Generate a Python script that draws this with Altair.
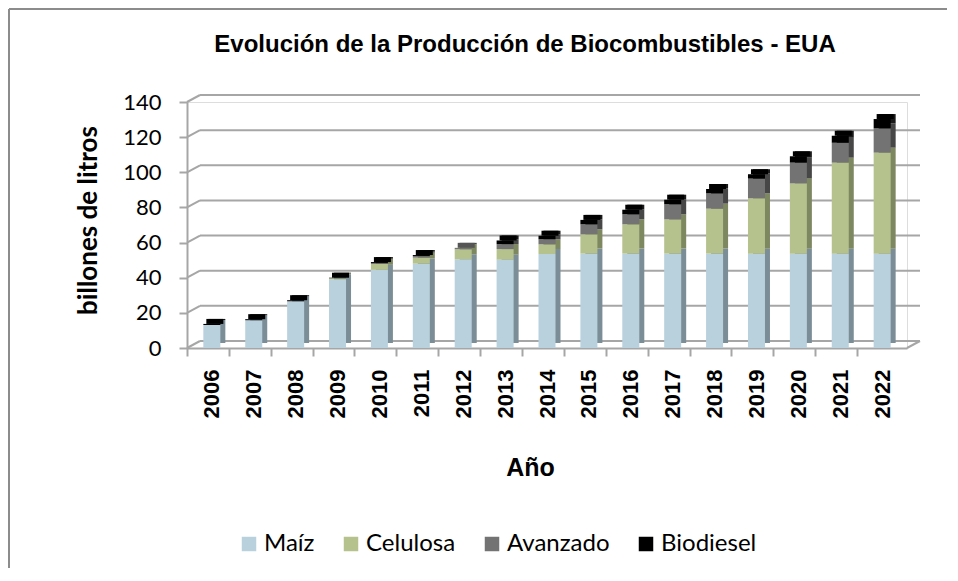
import altair as alt
import pandas as pd

# ---- data (billones de litros) ----
years = [str(y) for y in range(2006, 2023)]
maiz      = [13.1, 15.8, 26.6, 39.1, 44.5, 48.0, 50.5, 50.3, 53.5, 53.7, 53.7, 53.7, 53.7, 53.7, 53.7, 53.7, 53.7]
celulosa  = [0.0, 0.0, 0.0, 0.6, 3.3, 3.4, 5.7, 6.0, 5.5, 11.0, 16.7, 19.5, 25.6, 31.5, 40.0, 51.8, 57.5]
avanzado  = [0.0, 0.0, 0.0, 0.0, 0.5, 0.9, 0.8, 2.8, 2.9, 5.7, 5.7, 8.6, 8.7, 11.2, 11.8, 11.3, 13.8]
biodiesel = [0.6, 0.6, 0.6, 0.3, 0.6, 0.6, 0.0, 2.1, 2.0, 2.5, 2.6, 2.6, 2.5, 2.5, 3.6, 4.0, 5.3]

series = ["Maíz", "Celulosa", "Avanzado", "Biodiesel"]
front_colors = ["#B9D1DC", "#B5C28E", "#737373", "#000000"]
side_colors = ["#7B8E97", "#7D8760", "#474747", "#1A1A1A"]
top_colors = ["#9FB6C1", "#8E9A66", "#555555", "#000000"]
grid_vals = [0, 20, 40, 60, 80, 100, 120, 140]
title_text = "Evolución de la Producción  de Biocombustibles - EUA"

all_vals = [maiz, celulosa, avanzado, biodiesel]
rows = []
for i, (s, vals) in enumerate(zip(series, all_vals)):
    for y, v in zip(years, vals):
        rows.append(dict(anio=y, serie=s, valor=v, orden=i, lado=side_colors[i]))
df = pd.DataFrame(rows)

top_rows = []
for j, y in enumerate(years):
    vals = [a[j] for a in all_vals]
    last = max(i for i, v in enumerate(vals) if v > 0)
    top_rows.append(dict(anio=y, total=sum(vals), tapa=top_colors[last]))
top_df = pd.DataFrame(top_rows)

grid_df = pd.DataFrame({"v": grid_vals})
one_df = pd.DataFrame({"v": [0], "t": [title_text]})

W, H = 720, 246
xscale = alt.Scale(domain=years, paddingInner=0.594, paddingOuter=0.39)
yscale = alt.Scale(domain=[0, 140], nice=False, zero=True)
GRID = "#A6A6A6"

x_axis = alt.Axis(
    title="Año", titleFont="Liberation Sans", titleFontSize=25, titleFontWeight="bold",
    titleColor="#000", titleX=343, titleY=119, titleBaseline="middle",
    labelAngle=-90, labelFont="Liberation Sans", labelFontSize=22, labelFontWeight="bold",
    labelColor="#000", labelPadding=13, tickOffset=-25, labelOffset=25,
    domainColor=GRID, domainWidth=2, tickColor=GRID, tickWidth=2, tickSize=8, grid=False,
)
y_axis = alt.Axis(
    values=grid_vals, title="billones de litros", titleFont="Lato", titleFontSize=26,
    titleFontWeight="bold", titleColor="#000", titleX=-99, titleY=118, titleBaseline="middle",
    titleAngle=-90, labelFont="Lato", labelFontSize=22, labelColor="#000", labelPadding=18,
    domainColor=GRID, domainWidth=2, tickColor=GRID, tickWidth=2, tickSize=8, grid=False,
)

# back-wall gridlines
grid = alt.Chart(grid_df).mark_rule(color=GRID, strokeWidth=2, yOffset=-7).encode(
    x=alt.value(13), x2=alt.value(W + 13),
    y=alt.Y("v:Q", scale=yscale, axis=y_axis),
)
# side-wall diagonals
diag = alt.Chart(grid_df).mark_rule(color=GRID, strokeWidth=2, y2Offset=-7).encode(
    x=alt.value(0), x2=alt.value(13),
    y=alt.Y("v:Q", scale=yscale, axis=y_axis), y2="v:Q",
)
floor_diag = alt.Chart(one_df).mark_rule(color=GRID, strokeWidth=2, y2Offset=-7).encode(
    x=alt.value(W), x2=alt.value(W + 13),
    y=alt.Y("v:Q", scale=yscale, axis=y_axis), y2="v:Q",
)

# side faces of the columns (darker, shifted back)
side = alt.Chart(df).mark_bar(xOffset=5, yOffset=-5, y2Offset=-5).encode(
    x=alt.X("anio:N", scale=xscale, axis=x_axis),
    y=alt.Y("valor:Q", stack="zero", scale=yscale, axis=y_axis),
    color=alt.Color("lado:N", scale=None),
    order=alt.Order("orden:Q"),
)

# top faces (colour of the top-most series)
tapa = alt.Chart(top_df).mark_bar(xOffset=3, y2Offset=-5).encode(
    x=alt.X("anio:N", scale=xscale, axis=x_axis),
    y=alt.Y("total:Q", scale=yscale, axis=y_axis),
    y2="total:Q",
    color=alt.Color("tapa:N", scale=None),
)

front = alt.Chart(df).mark_bar().encode(
    x=alt.X("anio:N", scale=xscale, axis=x_axis),
    y=alt.Y("valor:Q", stack="zero", scale=yscale, axis=y_axis),
    color=alt.Color(
        "serie:N", scale=alt.Scale(domain=series, range=front_colors),
        legend=alt.Legend(
            title=None, orient="none", legendX=50, legendY=430, direction="horizontal",
            symbolType="square", symbolSize=210, symbolStrokeWidth=0, labelFont="Lato",
            labelFontSize=24, labelColor="#000", columnPadding=24, labelOffset=3,
        ),
    ),
    order=alt.Order("orden:Q"),
)

# chart title as text
title = alt.Chart(one_df).mark_text(
    font="Liberation Sans", fontSize=24, fontWeight="bold", color="#000",
    align="center", baseline="middle",
).encode(x=alt.value(525 - 187), y=alt.value(45 - 102), text="t:N")

# outer chart-area border (left and top)
border_left = alt.Chart(one_df).mark_rule(color="#8C8C8C", strokeWidth=2).encode(
    x=alt.value(-178), y=alt.value(-93), y2=alt.value(480)
)
border_top = alt.Chart(one_df).mark_rule(color="#8C8C8C", strokeWidth=2).encode(
    x=alt.value(-178), x2=alt.value(780), y=alt.value(-93)
)

chart = alt.layer(
    border_left, border_top, title, grid, diag, floor_diag, side, tapa, front
).resolve_scale(color="independent").properties(
    width=W, height=H,
    padding={"left": 179, "top": 94, "right": 40, "bottom": 220},
    autosize=alt.AutoSizeParams(type="none"),
).configure_view(stroke=None).configure(background="white")

chart.save("out.html", embed_options={"renderer": "svg", "actions": False})
